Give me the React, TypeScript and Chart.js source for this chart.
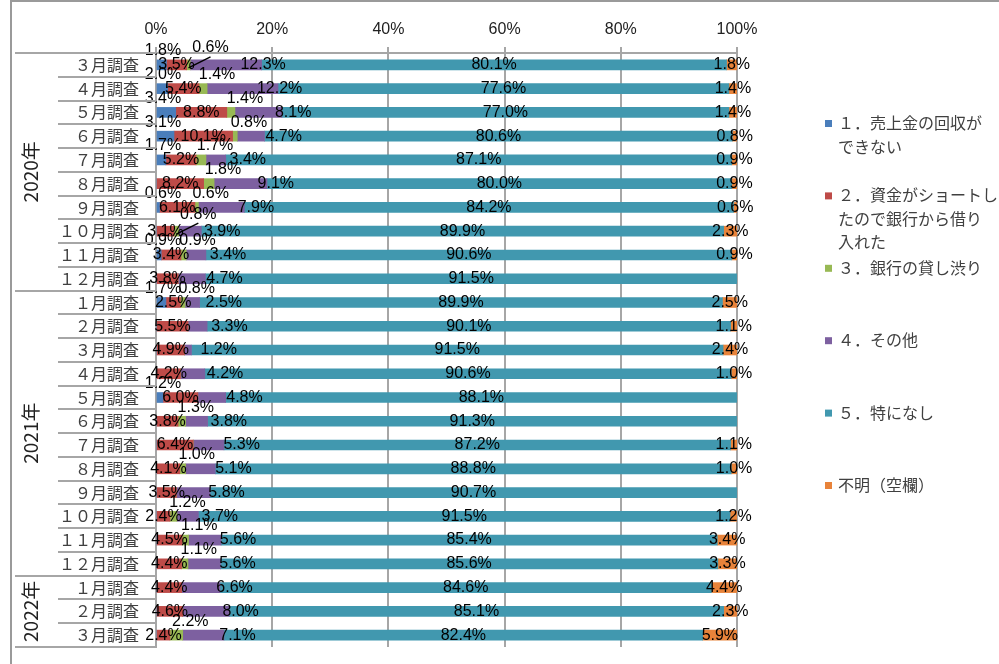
import React, { useEffect, useRef } from 'react';
import { Chart, registerables } from 'chart.js';

Chart.register(...registerables);

// ---------- data ----------
const months = [
  '３月調査', '４月調査', '５月調査', '６月調査', '７月調査', '８月調査', '９月調査', '１０月調査', '１１月調査', '１２月調査',
  '１月調査', '２月調査', '３月調査', '４月調査', '５月調査', '６月調査', '７月調査', '８月調査', '９月調査', '１０月調査', '１１月調査', '１２月調査',
  '１月調査', '２月調査', '３月調査',
];
const years = ['2020年', '2021年', '2022年'];
const yearCounts = [10, 12, 3];

const seriesNames = [
  '１．売上金の回収ができない',
  '２．資金がショートしたので銀行から借り入れた',
  '３．銀行の貸し渋り',
  '４．その他',
  '５．特になし',
  '不明（空欄）',
];
const legendLines = [
  ['１．売上金の回収が', 'できない'],
  ['２．資金がショートし', 'たので銀行から借り', '入れた'],
  ['３．銀行の貸し渋り'],
  ['４．その他'],
  ['５．特になし'],
  ['不明（空欄）'],
];
const seriesColors = ['#4a7ebb', '#be4b48', '#98b954', '#7d60a0', '#4198af', '#e8833a'];

const s1 = [1.8, 2.0, 3.4, 3.1, 1.7, 0, 0.6, 0, 0.9, 0, 1.7, 0, 0, 0, 1.2, 0, 0, 0, 0, 0, 0, 0, 0, 0, 0];
const s2 = [3.5, 5.4, 8.8, 10.1, 5.2, 8.2, 6.1, 3.1, 3.4, 3.8, 2.5, 5.5, 4.9, 4.2, 6.0, 3.8, 6.4, 4.1, 3.5, 2.4, 4.5, 4.4, 4.4, 4.6, 2.4];
const s3 = [0.6, 1.4, 1.4, 0.8, 1.7, 1.8, 0.6, 0.8, 0.9, 0, 0.8, 0, 0, 0, 0, 1.3, 0, 1.0, 0, 1.2, 1.1, 1.1, 0, 0, 2.2];
const s4 = [12.3, 12.2, 8.1, 4.7, 3.4, 9.1, 7.9, 3.9, 3.4, 4.7, 2.5, 3.3, 1.2, 4.2, 4.8, 3.8, 5.3, 5.1, 5.8, 3.7, 5.6, 5.6, 6.6, 8.0, 7.1];
const s5 = [80.1, 77.6, 77.0, 80.6, 87.1, 80.0, 84.2, 89.9, 90.6, 91.5, 89.9, 90.1, 91.5, 90.6, 88.1, 91.3, 87.2, 88.8, 90.7, 91.5, 85.4, 85.6, 84.6, 85.1, 82.4];
const s6 = [1.8, 1.4, 1.4, 0.8, 0.9, 0.9, 0.6, 2.3, 0.9, 0, 2.5, 1.1, 2.4, 1.0, 0, 0, 1.1, 1.0, 0, 1.2, 3.4, 3.3, 4.4, 2.3, 5.9];

const xTicks = [0, 20, 40, 60, 80, 100];

const rawSeries = [s1, s2, s3, s4, s5, s6];
// rows with a leader line on series 3 labels
const leaderRows = [0, 7];

const LABEL_FONT = '16px "Liberation Sans", Arial, sans-serif';
const JP_FONT = '"Noto Sans CJK JP", "Noto Sans", sans-serif';
const LINE_COLOR = '#a6a6a6';

const labelPlugin = {
  id: 'valueLabels',
  afterDatasetsDraw(chart: any) {
    const ctx = chart.ctx;
    const xs = chart.scales.x;
    ctx.save();
    ctx.font = LABEL_FONT;
    ctx.fillStyle = '#000';
    ctx.textAlign = 'center';
    ctx.textBaseline = 'middle';
    rawSeries.forEach((arr, di) => {
      const meta = chart.getDatasetMeta(di);
      arr.forEach((v, j) => {
        if (!v) return;
        const bar = meta.data[j].getProps(['x', 'y', 'base'], true);
        const start = Math.min(bar.x, bar.base);
        const end = Math.max(bar.x, bar.base);
        const w = end - start;
        let x = (start + end) / 2;
        let y = bar.y;
        if (di === 0) {
          x = xs.left + 7;
          y -= 14;
        } else if (di === 2) {
          x = (start + end) / 2 + 14;
          y -= 14;
          if (leaderRows.includes(j)) {
            x += 8;
            y -= 3;
            ctx.save();
            ctx.strokeStyle = '#000';
            ctx.lineWidth = 1.5;
            ctx.beginPath();
            ctx.moveTo((start + end) / 2, bar.y + 3);
            ctx.lineTo(x, y + 9);
            ctx.stroke();
            ctx.restore();
          }
        } else if (di === 3) {
          x = end + 30 - 0.4 * w;
        }
        ctx.fillText(v.toFixed(1) + '%', x, y);
      });
    });
    ctx.restore();
  },
};

const framePlugin = {
  id: 'frame',
  afterDraw(chart: any) {
    const ctx = chart.ctx;
    const { top, bottom, left } = chart.chartArea;
    const n = months.length;
    const h = (bottom - top) / n;
    ctx.save();
    // outer frame
    ctx.strokeStyle = '#9a9a9a';
    ctx.lineWidth = 2;
    ctx.beginPath();
    ctx.moveTo(11, 664);
    ctx.lineTo(11, 1);
    ctx.lineTo(999, 1);
    ctx.stroke();

    // category separators
    const groupBounds: number[] = [0];
    let acc = 0;
    yearCounts.forEach((c) => {
      acc += c;
      groupBounds.push(acc);
    });
    ctx.strokeStyle = LINE_COLOR;
    ctx.lineWidth = 2;
    for (let k = 0; k <= n; k++) {
      const y = Math.round(top + k * h);
      const x0 = groupBounds.includes(k) ? 15 : 58;
      ctx.beginPath();
      ctx.moveTo(x0, y);
      ctx.lineTo(left, y);
      ctx.stroke();
    }
    // year labels
    ctx.fillStyle = '#222';
    ctx.font = '19px ' + JP_FONT;
    ctx.textAlign = 'center';
    ctx.textBaseline = 'middle';
    years.forEach((yr, i) => {
      const yc = top + ((groupBounds[i] + groupBounds[i + 1]) / 2) * h;
      ctx.save();
      ctx.translate(31, yc);
      ctx.rotate(-Math.PI / 2);
      ctx.fillText(yr, 0, 0);
      ctx.restore();
    });

    // legend
    const lx = 825;
    const tx = 838;
    legendLines.forEach((lines, i) => {
      const y0 = 123 + i * 72.4;
      ctx.fillStyle = seriesColors[i];
      ctx.fillRect(lx, y0 - 3, 7, 7);
      ctx.fillStyle = '#404040';
      ctx.font = '16px ' + JP_FONT;
      ctx.textAlign = 'left';
      ctx.textBaseline = 'middle';
      lines.forEach((ln, k) => {
        ctx.fillText(ln, tx, y0 + k * 23.5);
      });
    });
    ctx.restore();
  },
};

export default function App() {
  const ref = useRef<HTMLCanvasElement>(null);

  useEffect(() => {
    if (!ref.current) return;
    const rowSums = months.map((_, j) => rawSeries.reduce((a, s) => a + s[j], 0));
    const chart = new Chart(ref.current, {
      type: 'bar',
      data: {
        labels: months,
        datasets: rawSeries.map((arr, i) => ({
          label: seriesNames[i],
          data: arr.map((v, j) => (v / rowSums[j]) * 100),
          backgroundColor: seriesColors[i],
          borderWidth: 0,
          barThickness: 10,
        })),
      },
      options: {
        indexAxis: 'y',
        responsive: false,
        animation: false,
        devicePixelRatio: 1,
        layout: { padding: { left: 0, top: 0, right: 262, bottom: 17 } },
        plugins: {
          legend: { display: false },
          tooltip: { enabled: false },
        },
        scales: {
          x: {
            position: 'top',
            stacked: true,
            min: 0,
            max: 100,
            afterBuildTicks: (axis: any) => {
              axis.ticks = xTicks.map((v) => ({ value: v }));
            },
            afterFit: (axis: any) => {
              axis.height = 53;
              axis.paddingLeft = 0;
              axis.paddingRight = 0;
            },
            ticks: {
              callback: (v: any) => v + '%',
              font: { family: '"Liberation Sans", Arial, sans-serif', size: 16 },
              color: '#222',
              padding: 8,
              maxRotation: 0,
            },
            grid: { color: LINE_COLOR, lineWidth: 2, tickLength: 6, drawTicks: true },
            border: { display: true, color: LINE_COLOR, width: 2 },
          },
          y: {
            stacked: true,
            afterFit: (axis: any) => {
              axis.width = 156;
              axis.paddingTop = 0;
              axis.paddingBottom = 0;
            },
            ticks: {
              autoSkip: false,
              font: { family: JP_FONT, size: 16 },
              color: '#404040',
              padding: 17,
            },
            grid: { display: false, drawTicks: false },
            border: { display: true, color: LINE_COLOR, width: 2 },
          },
        },
      } as any,
      plugins: [labelPlugin, framePlugin],
    });
    return () => chart.destroy();
  }, []);

  return (
    <div style={{ position: 'absolute', left: 0, top: 0, width: 999, height: 664, background: '#fff' }}>
      <canvas ref={ref} width={999} height={664} style={{ display: 'block', width: 999, height: 664 }} />
    </div>
  );
}
